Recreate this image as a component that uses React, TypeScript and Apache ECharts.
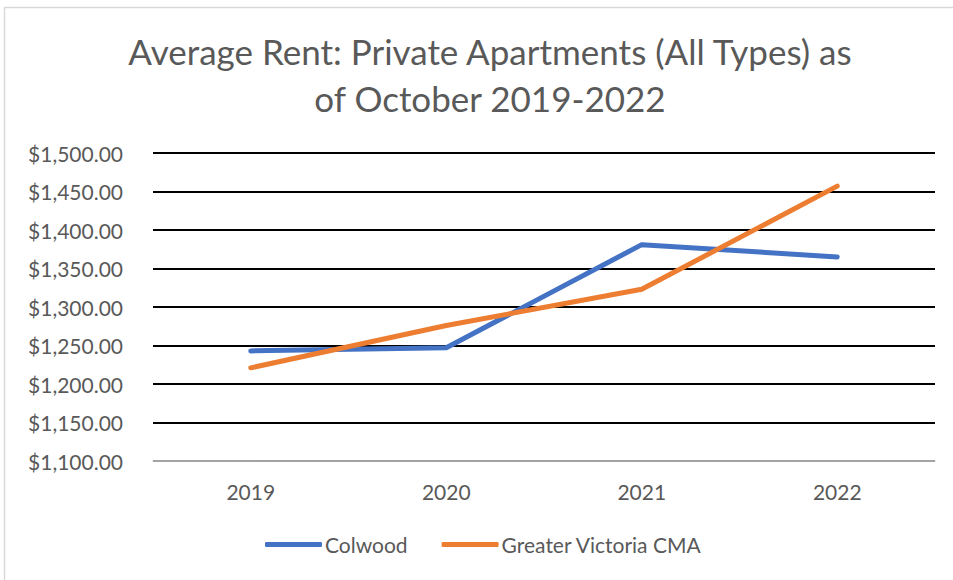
import React, { useEffect, useRef } from "react";
import * as echarts from "echarts";

const categories = ["2019", "2020", "2021", "2022"];
const colwood = [1243, 1247, 1381, 1365];
const greaterVictoria = [1221, 1276, 1323, 1457];
const yMin = 1100;
const yMax = 1500;
const yInterval = 50;

const TEXT = "#595959";
const FONT = "Lato";

export default function App() {
  const ref = useRef<HTMLDivElement>(null);
  useEffect(() => {
    if (!ref.current) return;
    const chart = echarts.init(ref.current, null, { renderer: "svg" });
    chart.setOption({
      animation: false,
      backgroundColor: "#ffffff",
      graphic: [
        {
          type: "rect",
          shape: { x: 4.5, y: 7.5, width: 1000, height: 1000 },
          style: { fill: "none", stroke: "#d9d9d9", lineWidth: 1.5 },
          silent: true,
        },
      ],
      title: {
        text: "Average Rent: Private Apartments (All Types) as\nof October 2019-2022",
        left: 485,
        top: 22,
        textAlign: "center",
        textStyle: {
          fontFamily: FONT,
          fontSize: 35,
          fontWeight: "normal",
          color: TEXT,
          lineHeight: 47,
        },
      },
      legend: {
        left: 265,
        top: 534,
        padding: 0,
        itemWidth: 57,
        itemHeight: 5,
        itemGap: 34,
        icon: "roundRect",
        data: ["Colwood", "Greater Victoria CMA"],
        textStyle: { fontFamily: FONT, fontSize: 21, color: TEXT, padding: [0, 0, 0, -2] },
      },
      grid: { left: 153, right: 18, top: 153, bottom: 119, containLabel: false },
      xAxis: {
        type: "category",
        data: categories,
        boundaryGap: true,
        axisLine: { show: true, lineStyle: { color: "#d9d9d9", width: 1.5 } },
        axisTick: { show: false },
        axisLabel: { fontFamily: FONT, fontSize: 21, color: TEXT, margin: 20 },
      },
      yAxis: {
        type: "value",
        min: yMin,
        max: yMax,
        interval: yInterval,
        axisLine: { show: false },
        axisTick: { show: false },
        splitLine: { lineStyle: { color: "#000000", width: 2 } },
        axisLabel: {
          fontFamily: FONT,
          fontSize: 21,
          color: TEXT,
          margin: 30,
          formatter: (v: number) =>
            "$" + v.toLocaleString("en-US", { minimumFractionDigits: 2, maximumFractionDigits: 2 }),
        },
      },
      series: [
        {
          name: "Colwood",
          type: "line",
          data: colwood,
          symbol: "none",
          color: "#4472C4",
          lineStyle: { width: 5, color: "#4472C4", cap: "round", join: "round" },
        },
        {
          name: "Greater Victoria CMA",
          type: "line",
          data: greaterVictoria,
          symbol: "none",
          color: "#ED7D31",
          lineStyle: { width: 5, color: "#ED7D31", cap: "round", join: "round" },
        },
      ],
    });
    return () => chart.dispose();
  }, []);
  return (
    <div
      ref={ref}
      style={{ position: "fixed", left: 0, top: 0, width: 953, height: 580 }}
    />
  );
}
